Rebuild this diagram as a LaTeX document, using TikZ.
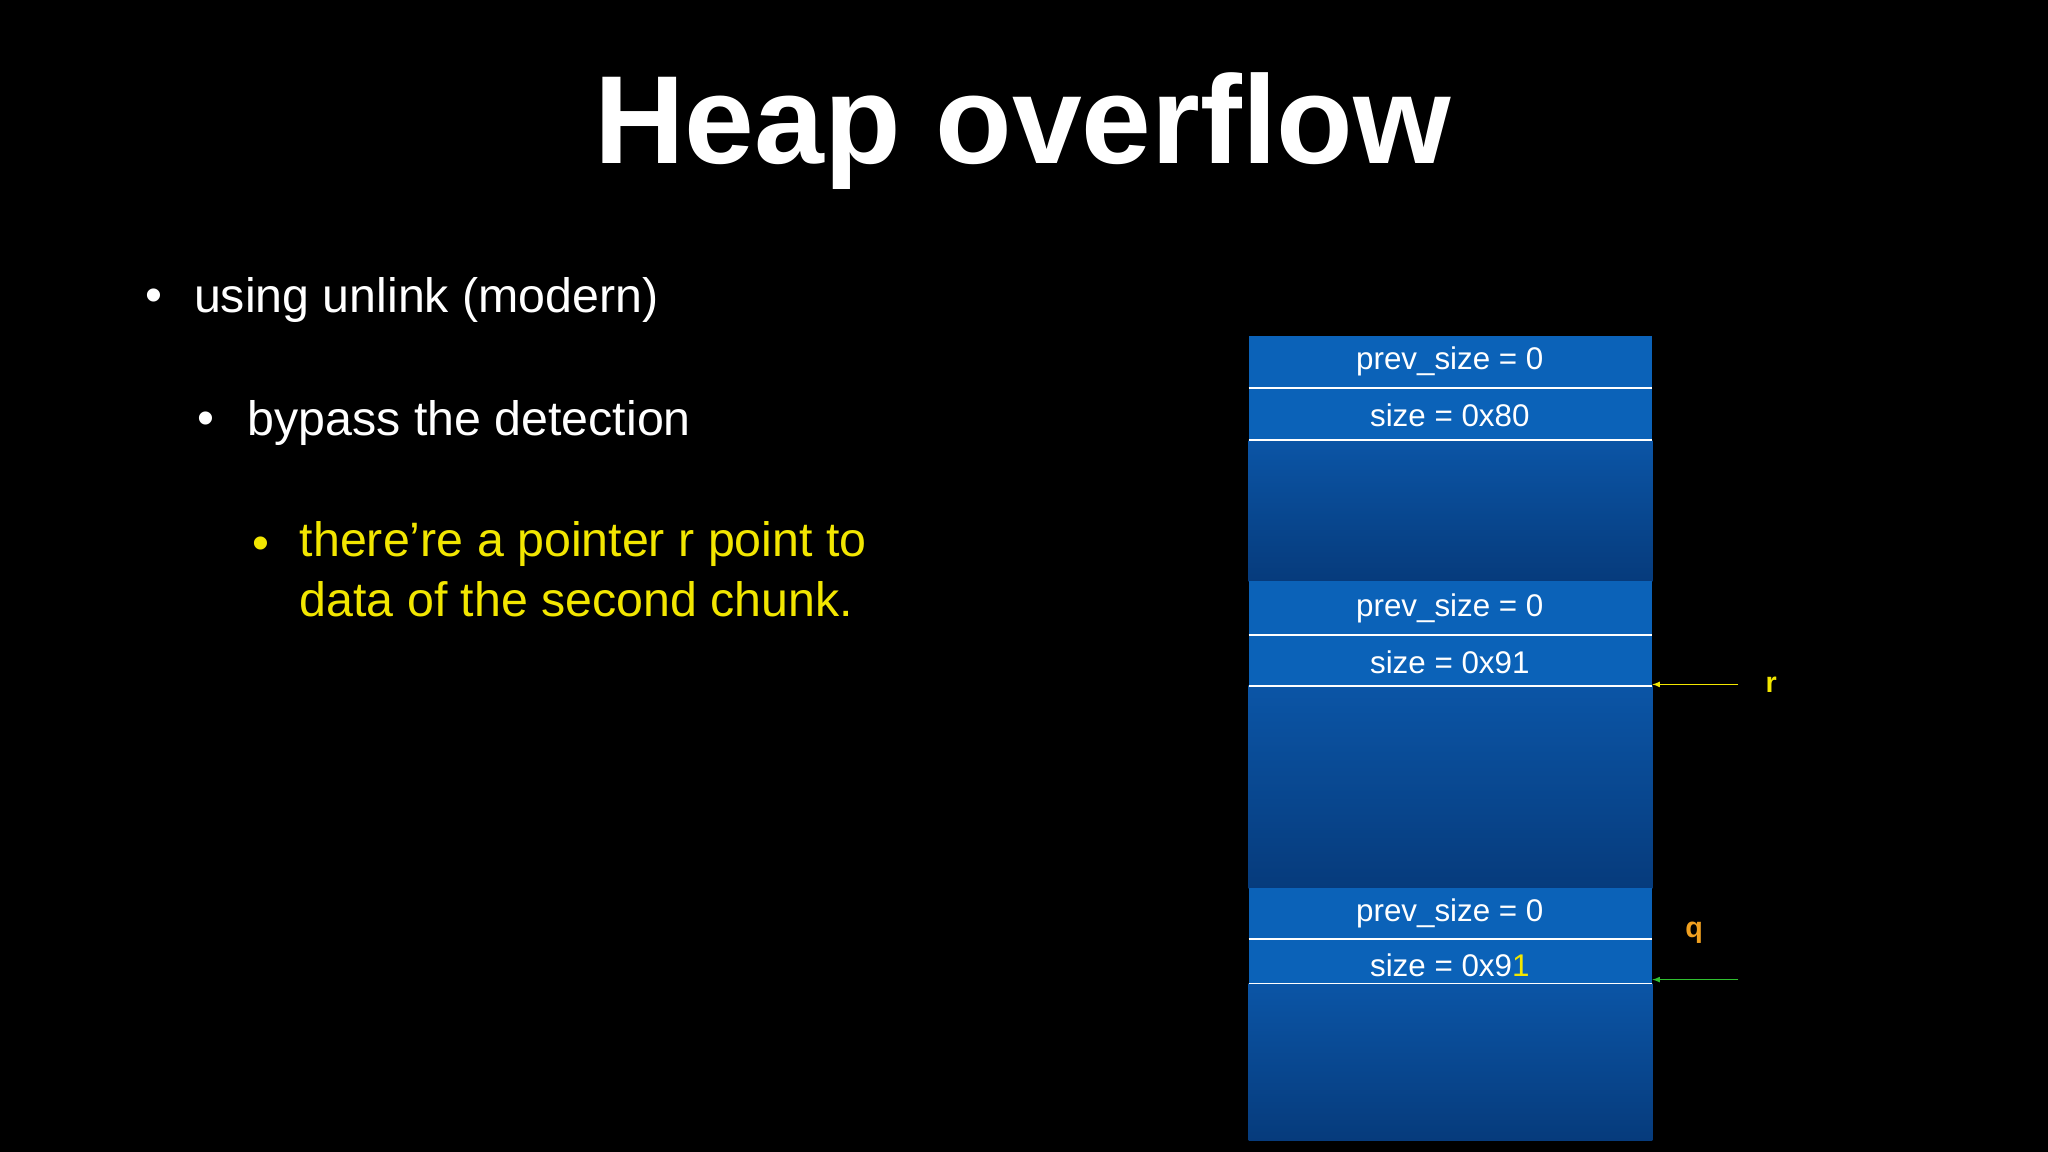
\documentclass[tikz,border=0pt]{standalone}
\usepackage{fontspec}
\setmainfont{Liberation Sans}
\definecolor{hdr}{HTML}{0B62B8}
\definecolor{btop}{HTML}{0B55A6}
\definecolor{bbot}{HTML}{063B7C}
\definecolor{ylw}{HTML}{F2E600}
\definecolor{org}{HTML}{F0A020}
\definecolor{grn}{HTML}{30C030}
\begin{document}
\begin{tikzpicture}[x=1pt,y=-1pt,
  hdrbox/.style={fill=hdr,draw=none},
  bodybox/.style={top color=btop,bottom color=bbot,draw=none},
  sep/.style={white,line width=1.2pt},
  cell/.style={text=white,font=\fontsize{24}{28}\selectfont,anchor=center},
  bul/.style={anchor=west,text=white,font=\fontsize{37}{44}\selectfont},
  ptr/.style={-latex,line width=1pt}]
\fill[black] (0,0) rectangle (1568,882);
\useasboundingbox (0,0) rectangle (1568,882);
\node[text=white,font=\fontsize{96}{100}\selectfont\bfseries] (title) at (783,100) {Heap overflow};
\node[bul] (b1d) at (108,230) {•};
\node[bul] (b1) at (145,230) {using unlink (modern)};
\node[bul] (b2d) at (148,324) {•};
\node[bul] (b2) at (186,324) {bypass the detection};
\node[bul,text=ylw] (b3d) at (190,420) {•};
\node[bul,text=ylw,align=left,anchor=north west,font=\fontsize{37}{46}\selectfont] (b3) at (226,396) {there’re a pointer r point to\\data of the second chunk.};
% chunk 1
\fill[hdrbox] (956,257) rectangle (1265,337);
\fill[bodybox] (956,337) rectangle (1265,445);
% chunk 2
\fill[hdrbox] (956,445) rectangle (1265,525);
\fill[bodybox] (956,525) rectangle (1265,680);
% chunk 3
\fill[hdrbox] (956,680) rectangle (1265,753);
\fill[bodybox] (956,753) rectangle (1265,873);
\foreach \yy in {297,337,486,525,719,753} \draw[sep] (956,\yy) -- (1265,\yy);
\node[cell] (c1p) at (1110,277) {prev\_size = 0};
\node[cell] (c1s) at (1110,318) {size = 0x80};
\node[cell] (c2p) at (1110,466) {prev\_size = 0};
\node[cell] (c2s) at (1110,507) {size = 0x91};
\node[cell] (c3p) at (1110,699) {prev\_size = 0};
\node[cell] (c3s) at (1110,739) {size = 0x9\textcolor{ylw}{1}};
\coordinate (rs) at (1331,524);
\coordinate (re) at (1265,524);
\coordinate (qs) at (1331,750);
\coordinate (qe) at (1265,750);
\draw[ptr,ylw] (rs) -- (re);
\draw[ptr,grn] (qs) -- (qe);
\node[text=ylw,font=\fontsize{22}{26}\selectfont\bfseries] (r) at (1356,524) {r};
\node[text=org,font=\fontsize{22}{26}\selectfont\bfseries] (q) at (1297,714) {q};
\end{tikzpicture}
\end{document}
